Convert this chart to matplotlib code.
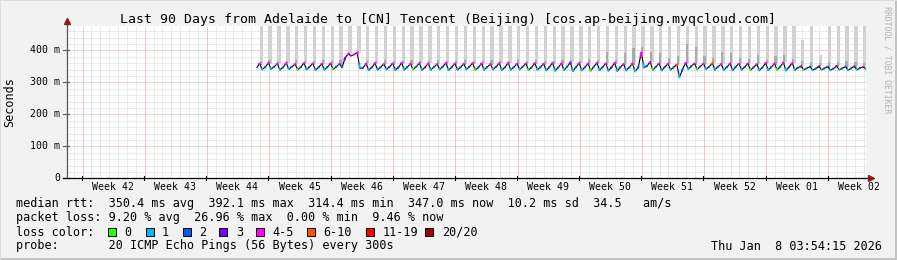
import numpy as np
import matplotlib
matplotlib.use('Agg')
import matplotlib.pyplot as plt
from matplotlib.patches import Rectangle
from matplotlib.transforms import blended_transform_factory

# --- data -------------------------------------------------------------
# time in days, 0 = left edge of the 90 day window
span_days = 90
first_monday = 1.69            # start of week 42
first_day = 20                 # first day (after first_monday) with data
data_start = 21.4
week_names = ['Week 42', 'Week 43', 'Week 44', 'Week 45', 'Week 46', 'Week 47',
              'Week 48', 'Week 49', 'Week 50', 'Week 51', 'Week 52', 'Week 01',
              'Week 02']
ytick_vals = [0, 100, 200, 300, 400]
ytick_labels = ['0', '100 m', '200 m', '300 m', '400 m']

# median rtt in ms, per day: [midnight peak, morning low, afternoon]
start_ms = 345
median_ms = [
    358, 339, 347,  360, 340, 348,  357, 338, 346,  359, 340, 348,
    356, 338, 347,  359, 339, 348,  358, 337, 346,  357, 338, 347,
    358, 339, 348,  357, 346, 376,  388, 382, 386,  392, 343, 344,
    357, 337, 346,  359, 338, 347,  356, 339, 348,  358, 337, 346,
    360, 338, 347,  357, 339, 348,  359, 337, 346,  358, 338, 347,
    356, 339, 348,  360, 337, 346,  358, 338, 347,  357, 339, 348,
    359, 337, 346,  358, 338, 347,  356, 339, 348,  359, 337, 346,
    360, 338, 347,  357, 339, 348,  358, 337, 346,  359, 338, 347,
    357, 336, 347,  360, 335, 346,  358, 337, 348,  361, 334, 347,
    359, 336, 346,  358, 335, 348,  360, 337, 347,  358, 335, 346,
    360, 334, 347,  356, 336, 346,  358, 333, 345,  392, 345, 350,
    363, 337, 348,  358, 336, 347,  357, 338, 346,  355, 315, 340,
    360, 340, 350,  358, 339, 349,  357, 340, 348,  359, 338, 348,
    356, 337, 347,  358, 336, 348,  357, 338, 347,  358, 337, 346,
    356, 336, 346,  360, 337, 347,  358, 338, 348,  361, 336, 347,
    359, 337, 345,  349, 338, 343,  348, 337, 342,  349, 338, 343,
    348, 337, 342,  350, 338, 343,  348, 337, 343,  349, 338, 344,
    347, 341, 345,
]
# lost pings out of 20 for each median point
start_loss = 1
loss_pings = [
    5, 1, 2,  5, 1, 2,  4, 1, 2,  5, 1, 2,  5, 0, 2,  5, 1, 2,
    4, 1, 2,  5, 1, 2,  5, 0, 2,  4, 2, 3,  5, 4, 5,  5, 1, 2,
    4, 1, 2,  5, 1, 2,  5, 1, 2,  4, 1, 2,  5, 1, 2,  5, 0, 2,
    5, 1, 3,  4, 1, 2,  5, 1, 2,  5, 1, 2,  5, 1, 2,  4, 1, 2,
    5, 0, 2,  5, 1, 2,  5, 1, 3,  4, 1, 2,  5, 1, 2,  5, 1, 2,
    5, 0, 2,  4, 1, 2,  5, 1, 2,  5, 1, 2,  5, 1, 2,  3, 1, 2,
    5, 1, 2,  5, 0, 2,  4, 1, 2,  5, 1, 3,  5, 1, 2,  5, 1, 2,
    4, 1, 2,  5, 1, 2,  5, 0, 2,  5, 1, 2,  4, 1, 2,  6, 1, 2,
    5, 1, 2,  5, 0, 2,  4, 1, 2,  7, 1, 2,  5, 1, 2,  5, 1, 2,
    4, 1, 2,  5, 0, 2,  5, 1, 2,  4, 1, 2,  5, 0, 2,  5, 1, 2,
    4, 1, 2,  3, 0, 2,  2, 1, 2,  3, 0, 2,  2, 1, 2,  3, 0, 2,
    2, 1, 2,  3, 0, 2,  5, 1, 2,
]
# smoke: highest ping and upper edge of the dense smoke, per day (ms)
smoke_top_ms = [
    480, 480, 480, 480, 480, 480, 480, 480, 480, 480, 480, 480,
    480, 480, 480, 480, 480, 480, 480, 480, 480, 480, 480, 480,
    480, 480, 480, 480, 480, 480, 480, 480, 480, 480, 480, 480,
    480, 480, 480, 480, 480, 480, 480, 480, 480, 480, 480, 480,
    480, 480, 480, 480, 480, 480, 480, 480, 480, 480, 480, 480,
    480, 430, 480, 385, 480, 480, 480, 480, 480,
]
smoke_dark_ms = [
    366, 368, 365, 366, 370, 366, 365, 368, 366, 368, 395, 398,
    365, 366, 368, 365, 366, 370, 366, 365, 368, 366, 366, 370,
    365, 366, 368, 366, 365, 370, 366, 368, 365, 366, 370, 368,
    366, 372, 368, 395, 370, 390, 405, 410, 395, 390, 375, 380,
    420, 410, 380, 375, 395, 390, 375, 372, 385, 370, 380, 385,
    372, 366, 362, 360, 364, 362, 366, 362, 360,
]

loss_legend = ['0', '1', '2', '3', '4-5', '6-10', '11-19', '20/20']
loss_limits = [0, 1, 2, 3, 5, 10, 19, 20]
loss_colors = ['#26ff00', '#00b8ff', '#0059ff', '#7e00ff', '#ff00ff',
               '#ff5500', '#ff0000', '#a10000']

title = 'Last 90 Days from Adelaide to [CN] Tencent (Beijing) [cos.ap-beijing.myqcloud.com]'
rtt_line = ('median rtt:  350.4 ms avg  392.1 ms max  314.4 ms min  '
            '347.0 ms now  10.2 ms sd  34.5   am/s')
loss_line = 'packet loss: 9.20 % avg  26.96 % max  0.00 % min  9.46 % now'
probe_line = 'probe:       20 ICMP Echo Pings (56 Bytes) every 300s'
stamp = 'Thu Jan  8 03:54:15 2026'


def loss_color(n):
    for lim, col in zip(loss_limits, loss_colors):
        if n <= lim:
            return col
    return loss_colors[-1]


# --- figure -----------------------------------------------------------
W, H = 897, 260
MONO = 'DejaVu Sans Mono'
BG = '#f2f2f2'
GRID = '#d6d6d6'
MGRID = '#f4a8a8'
DOT = (0, (1, 1))

fig = plt.figure(figsize=(W / 100, H / 100), dpi=100, facecolor=BG)
ax = fig.add_axes([67 / W, 1 - 178 / H, 799 / W, 152 / H])
ax.set_facecolor('white')
ax.set_xlim(0, span_days)
ax.set_ylim(0, 475)

# snap grid lines to pixel centres so the dots stay crisp
def snap_x(d):
    px = ax.transData.transform((d, 0))[0]
    return ax.transData.inverted().transform((np.floor(px) + 0.5, 0))[0]


def snap_y(v):
    py = ax.transData.transform((0, v))[1]
    return ax.transData.inverted().transform((0, np.floor(py) + 0.5))[1]


n_days = len(smoke_top_ms)
for d in np.arange(first_monday - 1, span_days, 1.0):
    ax.axvline(snap_x(d), color=GRID, lw=0.72, ls=DOT, zorder=0)
for w in range(len(week_names)):
    ax.axvline(snap_x(first_monday + 7 * w), color=MGRID, lw=0.72, ls=DOT,
               zorder=0.5)
for v in range(20, 475, 20):
    ax.axhline(snap_y(v), color=MGRID if v % 100 == 0 else GRID, lw=0.72,
               ls=DOT, zorder=0.5 if v % 100 == 0 else 0)

# time of every median point
day_start = first_monday + first_day + np.arange(n_days)
t = np.concatenate([[data_start],
                    (day_start[:, None] + np.array([0.0, 0.3, 0.65])).ravel()])
med = np.array([start_ms] + median_ms, dtype=float)
loss = [start_loss] + loss_pings
peaks = np.array(median_ms[0::3], dtype=float)

# smoke
ax.bar(day_start, np.array(smoke_top_ms) - peaks, bottom=peaks,
       width=0.38, align='edge', color='#d2d2d2', lw=0, zorder=1)
ax.bar(day_start, np.array(smoke_dark_ms) - peaks + 4, bottom=peaks - 4,
       width=0.24, align='edge', color='#aaaaaa', lw=0, zorder=1.2)

# median line, coloured by loss
ax.plot(t, med, color='black', lw=0.8, zorder=2)
for i in range(len(t)):
    i0 = max(i - 1, 0)
    i1 = min(i + 1, len(t) - 1)
    xa = t[i] + 0.3 * (t[i0] - t[i])
    ya = med[i] + 0.3 * (med[i0] - med[i])
    xb = t[i] + 0.12 * (t[i1] - t[i])
    yb = med[i] + 0.12 * (med[i1] - med[i])
    ax.plot([xa, t[i], xb], [ya, med[i], yb], color=loss_color(loss[i]),
            lw=1.5, solid_capstyle='butt', zorder=3)

# axes look
for s in ['top', 'right', 'left', 'bottom']:
    ax.spines[s].set_visible(False)
ax.set_xticks([])
ax.set_yticks([])
ax.plot([0, 0], [0, 1.03], transform=ax.transAxes, color='#555555', lw=0.9,
        clip_on=False, zorder=5)
ax.plot([0], [1.03], transform=ax.transAxes, marker='^', color='#8b1a1a',
        ms=4, clip_on=False, zorder=6)
ax.plot([-0.005, 1.006], [0, 0], transform=ax.transAxes, color='black', lw=0.9,
        clip_on=False, zorder=5)
ax.plot([1.006], [0], transform=ax.transAxes, marker='>', color='#8b1a1a',
        ms=4, clip_on=False, zorder=6)

ybl = blended_transform_factory(ax.transAxes, ax.transData)
for v, lab in zip(ytick_vals, ytick_labels):
    ax.plot([-0.005, 0.003], [v, v], transform=ybl, color='#555555', lw=0.8,
            clip_on=False)
    ax.text(-7 / 799, v, lab, transform=ybl, ha='right', va='center',
            family=MONO, fontsize=7.1, color='black')

xbl = blended_transform_factory(ax.transData, ax.transAxes)
for w, lab in enumerate(week_names):
    x0 = first_monday + 7 * w
    ax.plot([x0, x0], [-0.015, 0.01], transform=xbl, color='black', lw=0.8,
            clip_on=False)
    ax.text(x0 + 3.5, -9 / 152, lab, transform=xbl, ha='center', va='center',
            family=MONO, fontsize=7.1, color='black')

# texts
def fx(px):
    return px / W


def fy(py):
    return 1 - py / H


fig.text(fx(448), fy(19), title, ha='center', va='center', family=MONO,
         fontsize=9.55, color='black')
fig.text(fx(10), fy(102), 'Seconds', rotation=90, ha='center', va='center',
         family=MONO, fontsize=8.5)
fig.text(fx(887), fy(60), 'RRDTOOL / TOBI OETIKER', rotation=-90, ha='center',
         va='center', family=MONO, fontsize=5.9, color='#b4b4b4')

fig.text(fx(16), fy(204), rtt_line, ha='left', va='center', family=MONO, fontsize=8.5)
fig.text(fx(16), fy(218), loss_line, ha='left', va='center', family=MONO, fontsize=8.5)
fig.text(fx(16), fy(232), 'loss color:', ha='left', va='center', family=MONO, fontsize=8.5)
box_x = [108, 146, 183, 219, 256, 307, 366, 425]
lab_x = [124, 162, 199, 236, 272, 323, 383, 442]
for bx, lx, lab, col in zip(box_x, lab_x, loss_legend, loss_colors):
    fig.patches.append(Rectangle((fx(bx), fy(236)), 8 / W, 8 / H, facecolor=col,
                                 edgecolor='black', lw=0.7,
                                 transform=fig.transFigure, figure=fig))
    fig.text(fx(lx), fy(232), lab, ha='left', va='center', family=MONO, fontsize=8.5)
fig.text(fx(16), fy(246), probe_line, ha='left', va='center', family=MONO, fontsize=8.5)
fig.text(fx(882), fy(246), stamp, ha='right', va='center', family=MONO, fontsize=8.5)

# 3d frame
fig.patches.append(Rectangle((0, 0), 1, 2 / H, facecolor='#c4c4c4', lw=0,
                             transform=fig.transFigure, figure=fig))
fig.patches.append(Rectangle((1 - 2 / W, 0), 2 / W, 1, facecolor='#c4c4c4', lw=0,
                             transform=fig.transFigure, figure=fig))
fig.patches.append(Rectangle((0, 1 - 1 / H), 1, 1 / H, facecolor='#dcdcdc', lw=0,
                             transform=fig.transFigure, figure=fig))
fig.patches.append(Rectangle((0, 0), 1 / W, 1, facecolor='#dcdcdc', lw=0,
                             transform=fig.transFigure, figure=fig))

fig.savefig('out.png', dpi=100, facecolor=BG)
